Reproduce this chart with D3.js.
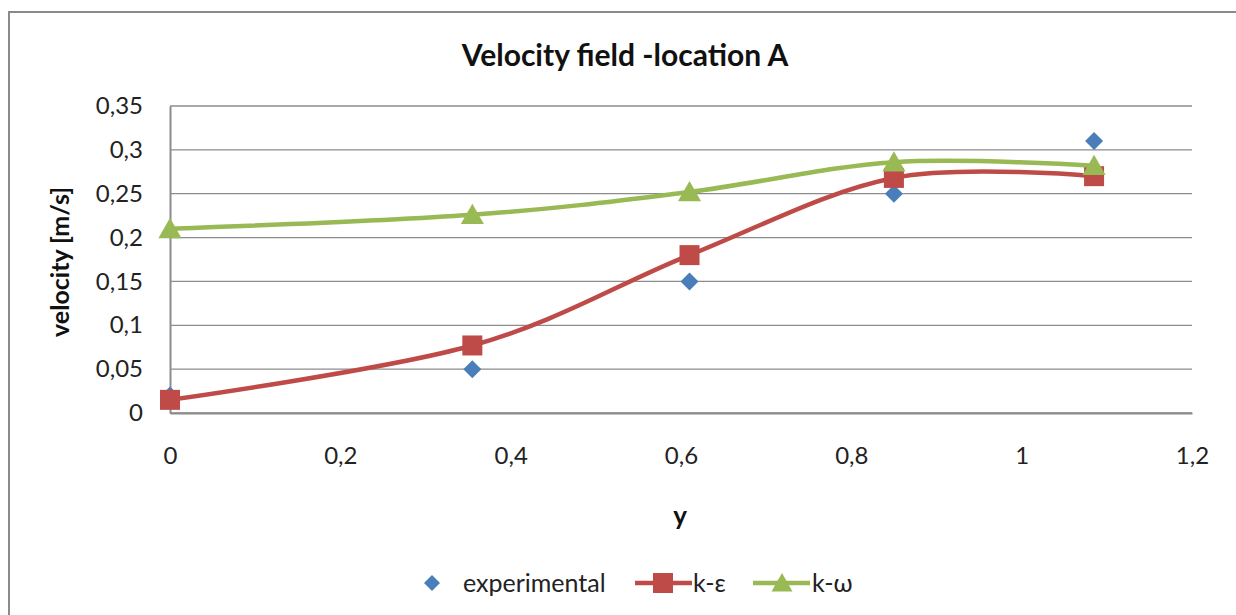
<!DOCTYPE html>
<html>
<head>
<meta charset="utf-8">
<script src="https://cdn.jsdelivr.net/npm/d3@7"></script>
<style>
  html, body { margin: 0; padding: 0; background: #fff; overflow: hidden; }
  svg { display: block; }
</style>
</head>
<body>
<svg id="chart" width="1236" height="615"></svg>
<script>
// ---- data ----
const xValues = [0, 0.355, 0.61, 0.85, 1.085];
const experimental = [0.02, 0.05, 0.15, 0.25, 0.31];
const kEpsilon = [0.015, 0.077, 0.18, 0.268, 0.27];
const kOmega = [0.21, 0.226, 0.252, 0.286, 0.282];
const xTicks = [0, 0.2, 0.4, 0.6, 0.8, 1, 1.2];
const yTicks = [0, 0.05, 0.1, 0.15, 0.2, 0.25, 0.3, 0.35];
const seriesNames = ["experimental", "k-ε", "k-ω"];
const titleText = "Velocity field -location A";
const xTitle = "y";
const yTitle = "velocity [m/s]";

const colors = { blue: "#4A7EBB", red: "#BE4B48", green: "#98B954" };
const font = "Lato, 'Open Sans', 'DejaVu Sans', sans-serif";

const svg = d3.select("#chart");
const W = 1236, H = 615;
svg.append("rect").attr("x", 0).attr("y", 0).attr("width", W).attr("height", H).attr("fill", "#fff");
// outer chart frame (top and left edges visible)
svg.append("path").attr("d", `M9,${H}L9,12L${W},12`)
  .attr("fill", "none").attr("stroke", "#8a8a8a").attr("stroke-width", 2);

const plot = { left: 170, right: 1192, top: 106, bottom: 413 };
const x = d3.scaleLinear().domain([0, 1.2]).range([plot.left, plot.right]);
const y = d3.scaleLinear().domain([0, 0.35]).range([plot.bottom, plot.top]);
const fmt = v => String(+v.toFixed(2)).replace(".", ",");

// gridlines
svg.append("g").selectAll("line").data(yTicks).join("line")
  .attr("x1", plot.left).attr("x2", plot.right)
  .attr("y1", d => y(d)).attr("y2", d => y(d))
  .attr("stroke", "#8c8c8c").attr("stroke-width", 1.3);

// axes
const yAxis = svg.append("g").attr("transform", `translate(${plot.left},0)`)
  .call(d3.axisLeft(y).tickValues(yTicks).tickSize(0).tickPadding(27).tickFormat(fmt));
yAxis.select(".domain").attr("stroke", "#8c8c8c").attr("stroke-width", 2);
yAxis.selectAll("text").attr("font-family", font).attr("font-size", 24).attr("fill", "#222");

const xAxis = svg.append("g").attr("transform", `translate(0,${plot.bottom})`)
  .call(d3.axisBottom(x).tickValues(xTicks).tickSize(0).tickPadding(34).tickFormat(fmt));
xAxis.select(".domain").attr("stroke", "#8c8c8c").attr("stroke-width", 2);
xAxis.selectAll("text").attr("font-family", font).attr("font-size", 24).attr("fill", "#222");

// titles
svg.append("text").attr("x", 625).attr("y", 66).attr("text-anchor", "middle")
  .attr("font-family", font).attr("font-size", 30).attr("font-weight", "bold").attr("fill", "#111")
  .text(titleText);
svg.append("text").attr("x", 680).attr("y", 525).attr("text-anchor", "middle")
  .attr("font-family", font).attr("font-size", 26).attr("font-weight", "bold").attr("fill", "#111")
  .text(xTitle);
svg.append("text").attr("transform", "translate(69,262) rotate(-90)").attr("text-anchor", "middle")
  .attr("font-family", font).attr("font-size", 25).attr("font-weight", "bold").attr("fill", "#111")
  .text(yTitle);

// series
const line = d3.line().x(d => x(d[0])).y(d => y(d[1])).curve(d3.curveCatmullRom.alpha(0));
const ptsE = xValues.map((v, i) => [v, kEpsilon[i]]);
const ptsO = xValues.map((v, i) => [v, kOmega[i]]);
const ptsX = xValues.map((v, i) => [v, experimental[i]]);

const diamond = s => `M0,${-s}L${s},0L0,${s}L${-s},0Z`;
const tri = s => `M0,${-s}L${s * 1.05},${s * 0.85}L${-s * 1.05},${s * 0.85}Z`;

// experimental diamonds (drawn first)
svg.append("g").selectAll("path").data(ptsX).join("path")
  .attr("transform", d => `translate(${x(d[0])},${y(d[1])})`)
  .attr("d", diamond(9)).attr("fill", colors.blue);

// k-epsilon
svg.append("path").datum(ptsE).attr("d", line).attr("fill", "none")
  .attr("stroke", colors.red).attr("stroke-width", 4.5);
svg.append("g").selectAll("rect").data(ptsE).join("rect")
  .attr("x", d => x(d[0]) - 10).attr("y", d => y(d[1]) - 10)
  .attr("width", 20).attr("height", 20).attr("fill", colors.red);

// k-omega
svg.append("path").datum(ptsO).attr("d", line).attr("fill", "none")
  .attr("stroke", colors.green).attr("stroke-width", 4.5);
svg.append("g").selectAll("path").data(ptsO).join("path")
  .attr("transform", d => `translate(${x(d[0])},${y(d[1])})`)
  .attr("d", tri(11)).attr("fill", colors.green);

// legend
const ly = 583;
const lg = svg.append("g");
lg.append("path").attr("transform", `translate(432,${ly})`).attr("d", diamond(8)).attr("fill", colors.blue);
lg.append("text").attr("x", 463).attr("y", ly + 9).attr("font-family", font).attr("font-size", 25).attr("fill", "#222").text(seriesNames[0]);
lg.append("line").attr("x1", 635).attr("x2", 692).attr("y1", ly).attr("y2", ly).attr("stroke", colors.red).attr("stroke-width", 4.5);
lg.append("rect").attr("x", 653).attr("y", ly - 10).attr("width", 20).attr("height", 20).attr("fill", colors.red);
lg.append("text").attr("x", 693).attr("y", ly + 9).attr("font-family", font).attr("font-size", 25).attr("fill", "#222").text(seriesNames[1]);
lg.append("line").attr("x1", 753).attr("x2", 810).attr("y1", ly).attr("y2", ly).attr("stroke", colors.green).attr("stroke-width", 4.5);
lg.append("path").attr("transform", `translate(782,${ly})`).attr("d", tri(10)).attr("fill", colors.green);
lg.append("text").attr("x", 812).attr("y", ly + 9).attr("font-family", font).attr("font-size", 25).attr("fill", "#222").text(seriesNames[2]);
</script>
</body>
</html>
